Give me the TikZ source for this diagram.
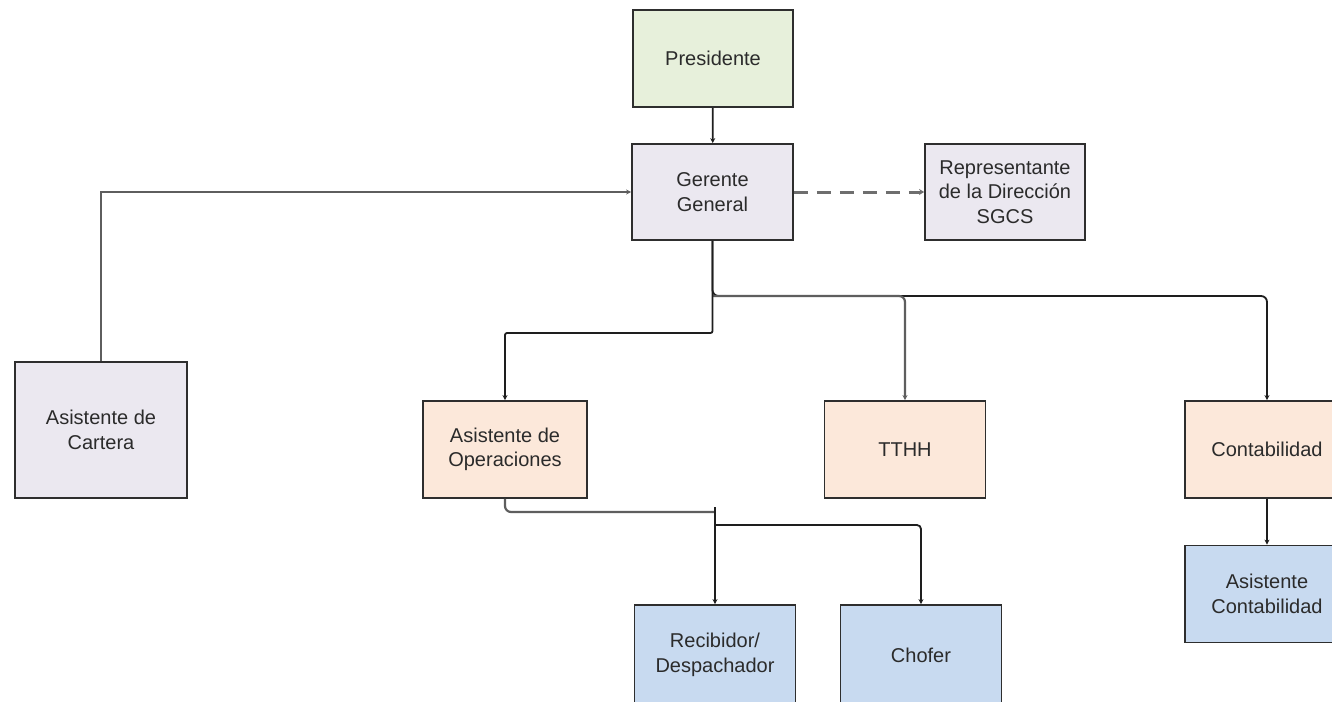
\documentclass[tikz,border=0pt]{standalone}
\usepackage{fontspec}
\setmainfont{Liberation Sans}
\usetikzlibrary{arrows.meta}
\definecolor{txt}{HTML}{2B2B2B}
\definecolor{bord}{HTML}{2E2E2E}
\definecolor{fgreen}{HTML}{E7F0DB}
\definecolor{flav}{HTML}{EBE8F0}
\definecolor{fpeach}{HTML}{FCE8DA}
\definecolor{fblue}{HTML}{C8DAF0}
\definecolor{lnk}{HTML}{1E1E1E}
\definecolor{lnkg}{HTML}{5E5E5E}
\begin{document}
\begin{tikzpicture}[x=1pt,y=-1pt,
  box/.style={draw=bord,line width=1.8pt,rectangle,minimum width=160pt,minimum height=97pt,
    align=center,text=txt,inner sep=2pt,font=\fontsize{20}{24.5}\selectfont},
  link/.style={draw=lnk,line width=1.8pt,-{Stealth[length=5pt,width=5pt]}},
  linkg/.style={draw=lnkg,line width=2.2pt,-{Stealth[length=5pt,width=5pt]}},
  dashlink/.style={draw=lnkg!90,line width=3pt,dash pattern=on 14pt off 9pt,-{Stealth[length=5pt,width=6pt]}}]
\useasboundingbox (0,0) rectangle (1332,701);
\fill[white] (0,0) rectangle (1332,701);

\node[box,fill=fgreen] (pres) at (713,58.5) {Presidente};
\node[box,fill=flav,minimum width=161pt,minimum height=96pt] (ger) at (712.5,192) {Gerente\\General};
\node[box,fill=flav,minimum height=96pt] (rep) at (1005,192) {Representante\\de la Dirección\\SGCS};
\node[box,fill=flav,minimum width=172pt,minimum height=136pt] (cart) at (101,430) {Asistente de\\Cartera};
\node[box,fill=fpeach,minimum width=164pt] (aop) at (505,449.5) {Asistente de\\Operaciones};
\node[box,fill=fpeach,minimum width=161pt] (tthh) at (905,449.5) {TTHH};
\node[box,fill=fpeach,minimum width=164pt] (cont) at (1267,449.5) {Contabilidad};
\node[box,fill=fblue,minimum width=164pt] (acont) at (1267,594) {Asistente\\Contabilidad};
\node[box,fill=fblue,minimum width=161pt,minimum height=100pt] (rec) at (715,655) {Recibidor/\\Despachador};
\node[box,fill=fblue,minimum width=161pt,minimum height=100pt] (chof) at (921,655) {Chofer};

\coordinate (j1) at (712.5,296);
\coordinate (j1b) at (712.5,333);
\coordinate (j2) at (715,512);
\coordinate (j3) at (715,525);

\draw[link] (pres) -- (ger);
\draw[dashlink] (ger.east) -- (rep.west);
\draw[linkg] (cart.north) |- (ger.west);
\draw[link,rounded corners=6pt] (ger.south) -- (j1) -| (cont.north);
\draw[linkg,rounded corners=6pt] (j1) -| (tthh.north);
\draw[link,rounded corners=2pt] (ger.south) -- (j1b) -| (aop.north);
\draw[linkg,-,rounded corners=6pt] (aop.south) |- (j2);
\draw[link] (715,507) -- (rec.north);
\draw[link,rounded corners=4pt] (j3) -| (chof.north);
\draw[link] (cont) -- (acont);
\end{tikzpicture}
\end{document}
